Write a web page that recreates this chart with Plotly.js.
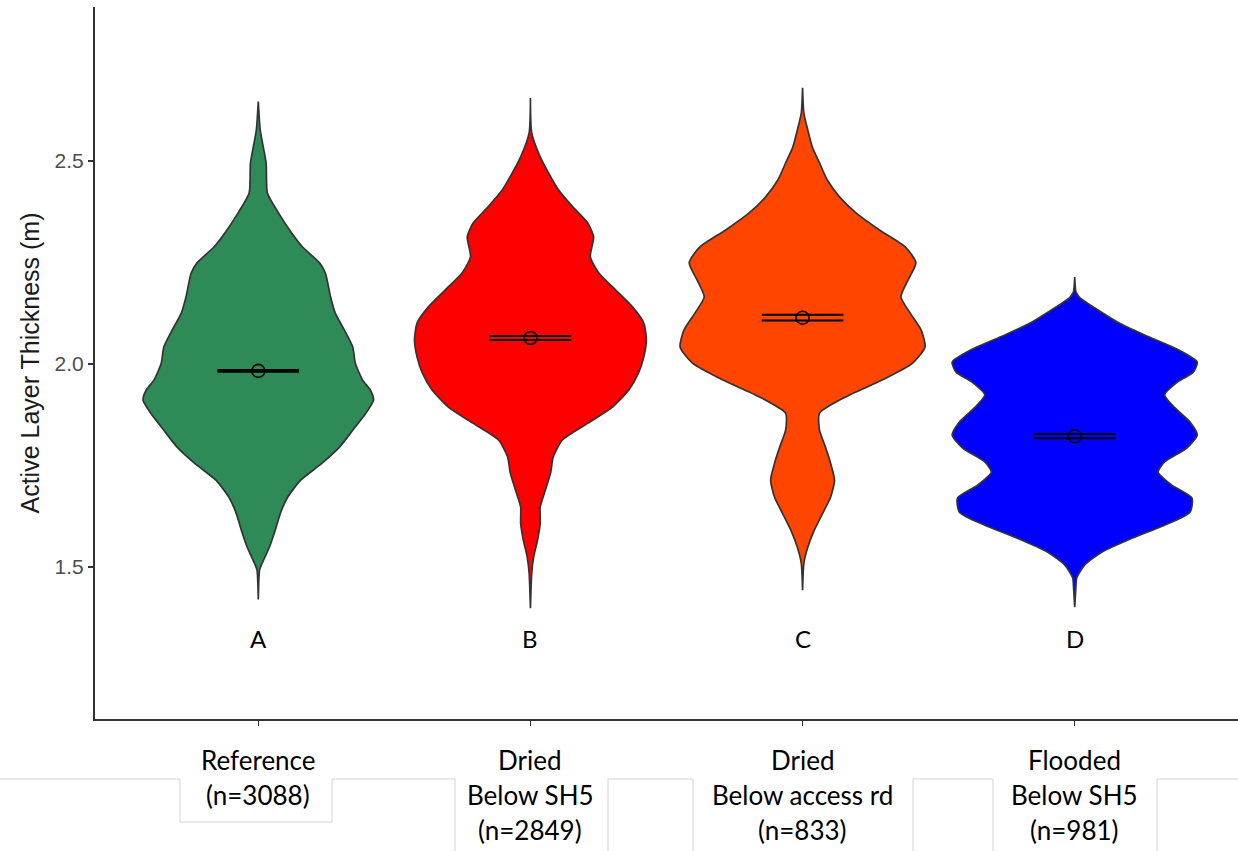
<!DOCTYPE html>
<html>
<head>
<meta charset="utf-8">
<script src="https://cdn.plot.ly/plotly-3.0.1.min.js"></script>
<style>
  html, body { margin: 0; padding: 0; background: #ffffff; }
  #chart { width: 1238px; height: 851px; }
</style>
</head>
<body>
<div id="chart"></div>
<script>
// Site groups (x axis), each label split into its lines
const groupLabels = [
  ['Reference', '(n=3088)'],
  ['Dried', 'Below SH5', '(n=2849)'],
  ['Dried', 'Below access rd', '(n=833)'],
  ['Flooded', 'Below SH5', '(n=981)']
];
const groupLetters = ['A', 'B', 'C', 'D'];
const groupColors = ['#2E8B57', '#FF0000', '#FF4500', '#0000FF'];

// Kernel density profiles: thickness (m) and density
const yA = [2.646, 2.576, 2.495, 2.421, 2.372, 2.323, 2.288, 2.249, 2.224, 2.165, 2.126, 2.084, 2.042, 2.002, 1.961, 1.936, 1.911, 1.879, 1.837, 1.796, 1.756, 1.714, 1.672, 1.633, 1.591, 1.549, 1.510, 1.493, 1.420];
const dA = [0, 0.03, 0.12, 0.14, 0.31, 0.51, 0.68, 0.94, 1.03, 1.11, 1.18, 1.32, 1.45, 1.49, 1.60, 1.72, 1.77, 1.65, 1.45, 1.25, 0.98, 0.65, 0.45, 0.34, 0.26, 0.17, 0.06, 0.02, 0];

const yB = [2.655, 2.569, 2.510, 2.470, 2.429, 2.387, 2.347, 2.313, 2.264, 2.224, 2.182, 2.140, 2.101, 2.059, 2.017, 1.978, 1.936, 1.894, 1.855, 1.813, 1.771, 1.732, 1.690, 1.648, 1.608, 1.567, 1.525, 1.485, 1.399];
const dB = [0, 0.02, 0.15, 0.28, 0.43, 0.65, 0.88, 0.97, 0.92, 1.05, 1.31, 1.57, 1.74, 1.78, 1.74, 1.66, 1.51, 1.26, 0.89, 0.49, 0.35, 0.31, 0.23, 0.15, 0.15, 0.11, 0.05, 0.02, 0];

const yC = [2.680, 2.618, 2.576, 2.534, 2.495, 2.453, 2.411, 2.372, 2.330, 2.288, 2.249, 2.207, 2.165, 2.126, 2.084, 2.042, 2.002, 1.961, 1.919, 1.879, 1.837, 1.796, 1.756, 1.714, 1.672, 1.633, 1.591, 1.549, 1.510, 1.443];
const dC = [0, 0.02, 0.08, 0.15, 0.26, 0.38, 0.57, 0.82, 1.18, 1.58, 1.74, 1.62, 1.51, 1.65, 1.82, 1.88, 1.69, 1.23, 0.66, 0.26, 0.26, 0.35, 0.43, 0.49, 0.43, 0.31, 0.18, 0.08, 0.02, 0];

const yD = [2.214, 2.177, 2.163, 2.138, 2.103, 2.071, 2.039, 2.005, 1.980, 1.956, 1.924, 1.892, 1.857, 1.825, 1.793, 1.759, 1.734, 1.702, 1.670, 1.635, 1.603, 1.571, 1.537, 1.505, 1.473, 1.456, 1.401];
const dD = [0, 0.02, 0.08, 0.31, 0.66, 1.08, 1.54, 1.88, 1.82, 1.58, 1.38, 1.54, 1.77, 1.88, 1.72, 1.38, 1.28, 1.49, 1.80, 1.77, 1.38, 0.88, 0.42, 0.15, 0.03, 0.02, 0];

// Group means with 95% confidence limits
const means = [1.983, 2.064, 2.114, 1.822];
const ciLow = [1.981, 2.059, 2.107, 1.817];
const ciHigh = [1.985, 2.069, 2.121, 1.828];

const profilesY = [yA, yB, yC, yD];
const profilesD = [dA, dB, dC, dD];

// Violin widths: the densest group fills 0.9 of a category slot
const maxDensity = Math.max(...profilesD.map(d => Math.max(...d)));
const halfSlot = 0.45;
const barHalf = 0.15;

const traces = [];

profilesY.forEach((ys, g) => {
  const ds = profilesD[g];
  const xs = [], yy = [];
  for (let i = 0; i < ys.length; i++) {
    xs.push(g + ds[i] / maxDensity * halfSlot);
    yy.push(ys[i]);
  }
  for (let i = ys.length - 1; i >= 0; i--) {
    xs.push(g - ds[i] / maxDensity * halfSlot);
    yy.push(ys[i]);
  }
  xs.push(xs[0]); yy.push(yy[0]);
  traces.push({
    type: 'scatter', mode: 'lines',
    x: xs, y: yy,
    fill: 'toself', fillcolor: groupColors[g],
    line: { color: '#333333', width: 1.7, shape: 'spline', smoothing: 0.6 },
    hoverinfo: 'skip', showlegend: false
  });
});

// Confidence crossbars
means.forEach((m, g) => {
  traces.push({
    type: 'scatter', mode: 'lines',
    x: [g - barHalf, g + barHalf, null, g - barHalf, g + barHalf],
    y: [ciLow[g], ciLow[g], null, ciHigh[g], ciHigh[g]],
    line: { color: '#000000', width: 2 },
    hoverinfo: 'skip', showlegend: false
  });
});

// Mean points
traces.push({
  type: 'scatter', mode: 'markers',
  x: means.map((m, g) => g), y: means,
  marker: { symbol: 'circle-open', size: 13, color: '#000000', line: { width: 1.6, color: '#000000' } },
  hoverinfo: 'skip', showlegend: false
});

const labelFont = 'Lato, "Open Sans", sans-serif';
const annotations = [];
// Significance letters
groupLetters.forEach((t, g) => {
  annotations.push({
    x: g, y: 1.325, xref: 'x', yref: 'y', text: t, showarrow: false,
    font: { family: labelFont, size: 24, color: '#000000' },
    xanchor: 'center', yanchor: 'middle'
  });
});
// Multi-line group labels below the axis
groupLabels.forEach((lines, g) => {
  lines.forEach((t, i) => {
    annotations.push({
      x: g, y: 0, xref: 'x', yref: 'paper', text: t, showarrow: false,
      font: { family: labelFont, size: 26, color: '#000000' },
      xanchor: 'center', yanchor: 'middle', yshift: -41 - i * 35
    });
  });
});

// Light cell borders around the label block (pixel positions → paper units)
const gridColor = '#d4d4d4';
const px = v => (v - 95) / 1143;
const py = v => (719 - v) / 712;
const segs = [
  [0, 779, 180, 779], [180, 779, 180, 822], [180, 822, 332, 822], [332, 822, 332, 779],
  [332, 779, 455, 779], [455, 779, 455, 851],
  [608, 779, 608, 851], [608, 779, 693, 779], [693, 779, 693, 851],
  [913, 779, 913, 851], [913, 779, 993, 779], [993, 779, 993, 851],
  [1157, 779, 1157, 851], [1157, 779, 1238, 779]
];
const shapes = segs.map(s => ({
  type: 'line', xref: 'paper', yref: 'paper',
  x0: px(s[0]), y0: py(s[1]), x1: px(s[2]), y1: py(s[3]),
  line: { color: gridColor, width: 1 }
}));

const layout = {
  width: 1238, height: 851,
  margin: { l: 95, r: 0, t: 7, b: 132 },
  paper_bgcolor: '#ffffff', plot_bgcolor: '#ffffff',
  showlegend: false,
  xaxis: {
    range: [-0.6, 3.6], fixedrange: true,
    tickvals: [0, 1, 2, 3], showticklabels: false,
    ticks: 'outside', ticklen: 5, tickwidth: 1.5, tickcolor: '#333333',
    showline: true, linecolor: '#333333', linewidth: 2,
    showgrid: false, zeroline: false
  },
  yaxis: {
    range: [1.126, 2.879], fixedrange: true,
    tickvals: [1.5, 2.0, 2.5], tickformat: '.1f',
    ticks: 'outside', ticklen: 5, tickwidth: 1.5, tickcolor: '#333333',
    tickfont: { family: '"Liberation Sans", Arial, sans-serif', size: 21, color: '#4d4d4d' },
    showline: true, linecolor: '#333333', linewidth: 2,
    showgrid: false, zeroline: false,
    title: { text: 'Active Layer Thickness (m)', standoff: 8,
      font: { family: '"Liberation Sans", Arial, sans-serif', size: 25, color: '#1a1a1a' } }
  },
  annotations: annotations,
  shapes: shapes
};

Plotly.newPlot('chart', traces, layout, { staticPlot: true, displayModeBar: false });
</script>
</body>
</html>
